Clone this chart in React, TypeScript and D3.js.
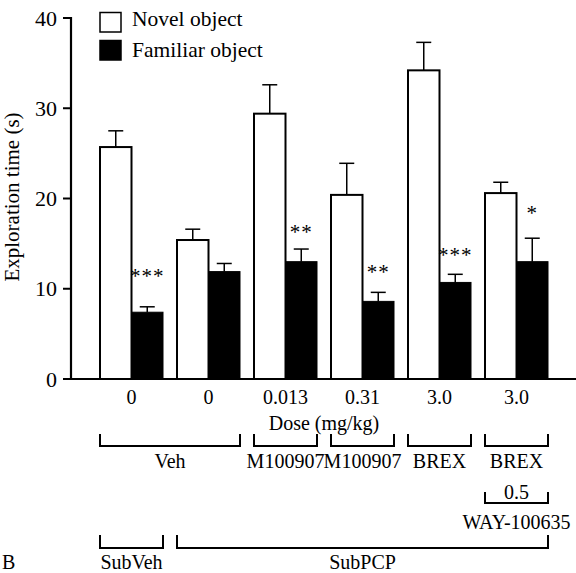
import React from 'react';
import * as d3 from 'd3';

// values (seconds)
const groups = ['g1', 'g2', 'g3', 'g4', 'g5', 'g6'];
const doseLabels = ['0', '0', '0.013', '0.31', '3.0', '3.0'];
const novelMeans = [25.7, 15.4, 29.4, 20.4, 34.2, 20.6];
const novelSem = [1.8, 1.2, 3.2, 3.5, 3.1, 1.2];
const familiarMeans = [7.4, 11.9, 13.0, 8.6, 10.7, 13.0];
const familiarSem = [0.6, 0.9, 1.4, 1.0, 0.9, 2.6];
const stars = ['***', '', '**', '**', '***', '*'];
const starLevels = [11.7, 0, 16.6, 12.2, 14.1, 18.7];
const yTicks = [0, 10, 20, 30, 40];
const series = ['Novel object', 'Familiar object'];

const treatmentBrackets = [
  { label: 'Veh', from: 0, to: 1 },
  { label: 'M100907', from: 2, to: 2 },
  { label: 'M100907', from: 3, to: 3 },
  { label: 'BREX', from: 4, to: 4 },
  { label: 'BREX', from: 5, to: 5 },
];
const wayBrackets = [{ label: '0.5', name: 'WAY-100635', from: 5, to: 5 }];
const subBrackets = [
  { label: 'SubVeh', from: 0, to: 0 },
  { label: 'SubPCP', from: 1, to: 5 },
];

const W = 576;
const H = 573;
const FONT = "'Liberation Serif', 'DejaVu Serif', serif";

const App = () => {
  const x0 = d3.scaleBand().domain(groups).range([93, 555]).paddingInner(14 / 77).paddingOuter(7 / 77);
  const x1 = d3.scaleBand().domain(['novel', 'familiar']).range([0, x0.bandwidth()]);
  const y = d3.scaleLinear().domain([0, 40]).range([379, 18]);

  const bx = (i: number) => x0(groups[i]) as number;
  const bw = x1.bandwidth();
  const capW = 15;

  const bracket = (from: number, to: number, yLine: number, h: number, key: string) => {
    const a = bx(from);
    const b = bx(to) + x0.bandwidth();
    const p = d3.path();
    p.moveTo(a, yLine - h);
    p.lineTo(a, yLine);
    p.lineTo(b, yLine);
    p.lineTo(b, yLine - h);
    return <path key={key} d={p.toString()} fill="none" stroke="#000" strokeWidth={2} />;
  };

  return (
    <svg width={W} height={H} style={{ position: 'absolute', left: 0, top: 0, background: '#fff', fontFamily: FONT }}>
      {/* bars */}
      {groups.map((g, i) => {
        const xn = bx(i) + (x1('novel') as number);
        const xf = bx(i) + (x1('familiar') as number);
        const nTop = y(novelMeans[i]);
        const fTop = y(familiarMeans[i]);
        const nErr = y(novelMeans[i] + novelSem[i]);
        const fErr = y(familiarMeans[i] + familiarSem[i]);
        return (
          <g key={g}>
            <line x1={xn + bw / 2} x2={xn + bw / 2} y1={nTop} y2={nErr} stroke="#000" strokeWidth={1.5} />
            <line x1={xn + bw / 2 - capW / 2} x2={xn + bw / 2 + capW / 2} y1={nErr} y2={nErr} stroke="#000" strokeWidth={1.5} />
            <line x1={xf + bw / 2} x2={xf + bw / 2} y1={fTop} y2={fErr} stroke="#000" strokeWidth={1.5} />
            <line x1={xf + bw / 2 - capW / 2} x2={xf + bw / 2 + capW / 2} y1={fErr} y2={fErr} stroke="#000" strokeWidth={1.5} />
            <rect x={xn} y={nTop} width={bw} height={y(0) - nTop} fill="#fff" stroke="#000" strokeWidth={2} />
            <rect x={xf} y={fTop} width={bw} height={y(0) - fTop} fill="#000" stroke="#000" strokeWidth={1} />
            {stars[i] && (
              <text x={xf + bw / 2} y={y(starLevels[i]) + 10} textAnchor="middle" fontSize={21}
                letterSpacing={1}>{stars[i]}</text>
            )}
          </g>
        );
      })}

      {/* axes */}
      <line x1={71} x2={71} y1={y(40) - 1} y2={y(0) + 1} stroke="#000" strokeWidth={2.2} />
      <line x1={70} x2={W} y1={y(0)} y2={y(0)} stroke="#000" strokeWidth={2.2} />
      {yTicks.map((t) => (
        <g key={t}>
          <line x1={63} x2={71} y1={y(t)} y2={y(t)} stroke="#000" strokeWidth={2} />
          <text x={57} y={y(t)} dy="0.35em" textAnchor="end" fontSize={22}>{t}</text>
        </g>
      ))}
      <text transform={`translate(12,197) rotate(-90)`} textAnchor="middle" dy="0.35em" fontSize={21}>
        Exploration time (s)
      </text>

      {/* dose tick labels */}
      {doseLabels.map((d, i) => (
        <text key={i} x={bx(i) + x0.bandwidth() / 2} y={397} dy="0.35em" textAnchor="middle" fontSize={20}>{d}</text>
      ))}
      <text x={324} y={423} dy="0.35em" textAnchor="middle" fontSize={20}>Dose (mg/kg)</text>

      {/* treatment brackets */}
      {treatmentBrackets.map((b, i) => (
        <g key={'t' + i}>
          {bracket(b.from, b.to, 446, 12, 'tb' + i)}
          <text x={(bx(b.from) + bx(b.to) + x0.bandwidth()) / 2} y={461} dy="0.35em" textAnchor="middle" fontSize={20}>
            {b.label}
          </text>
        </g>
      ))}
      {wayBrackets.map((b, i) => {
        const cx = (bx(b.from) + bx(b.to) + x0.bandwidth()) / 2;
        return (
          <g key={'w' + i}>
            {bracket(b.from, b.to, 503, 11, 'wb' + i)}
            <text x={cx} y={492} dy="0.35em" textAnchor="middle" fontSize={20}>{b.label}</text>
            <text x={cx} y={522} dy="0.35em" textAnchor="middle" fontSize={20}>{b.name}</text>
          </g>
        );
      })}
      {subBrackets.map((b, i) => (
        <g key={'s' + i}>
          {bracket(b.from, b.to, 548, 13, 'sb' + i)}
          <text x={(bx(b.from) + bx(b.to) + x0.bandwidth()) / 2} y={562} dy="0.35em" textAnchor="middle" fontSize={20}>
            {b.label}
          </text>
        </g>
      ))}
      <text x={2} y={562} dy="0.35em" fontSize={20}>B</text>

      {/* legend */}
      {series.map((s, i) => (
        <g key={s}>
          <rect x={100} y={12.5 + i * 28} width={21} height={19.5} fill={i === 0 ? '#fff' : '#000'}
            stroke="#000" strokeWidth={1.5} />
          <text x={132} y={26 + i * 31} fontSize={21.5}>{s}</text>
        </g>
      ))}
    </svg>
  );
};

export default App;
